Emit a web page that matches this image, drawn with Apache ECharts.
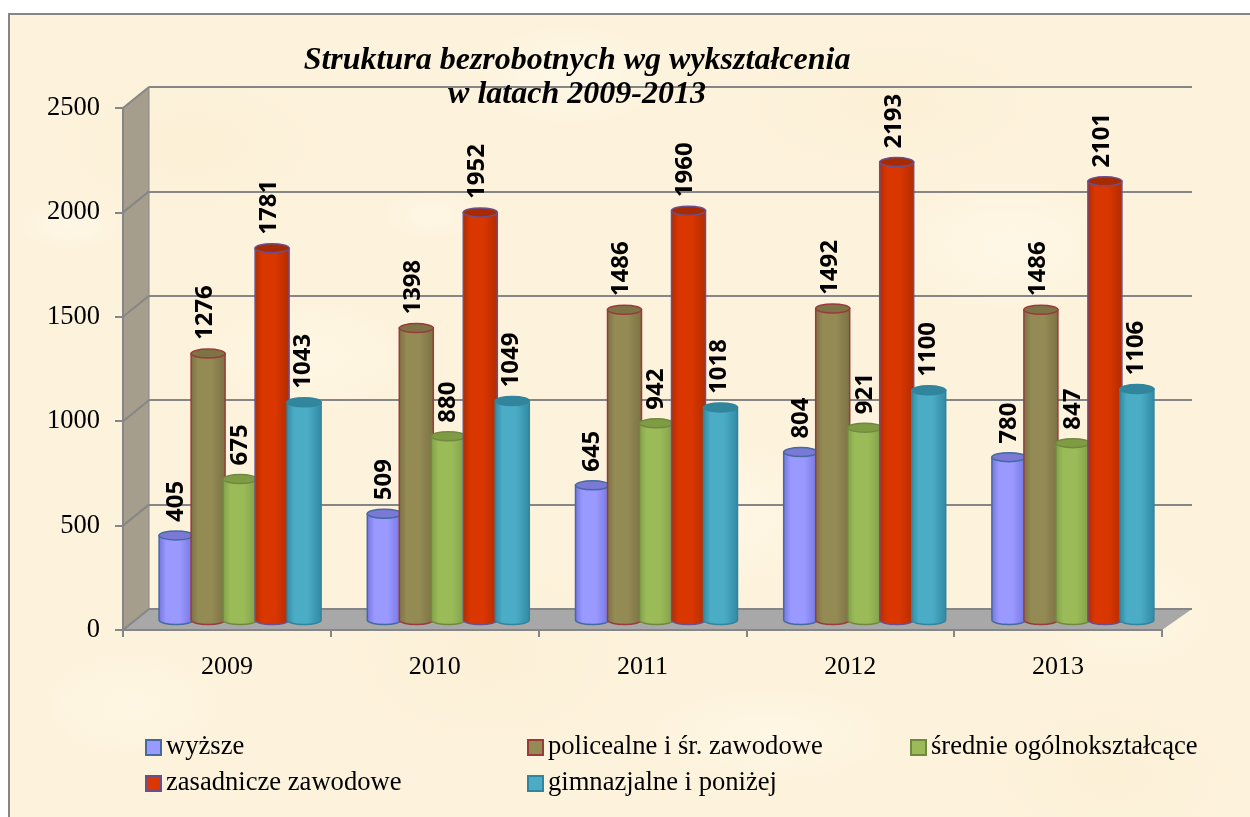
<!DOCTYPE html>
<html><head><meta charset="utf-8">
<script src="https://cdn.jsdelivr.net/npm/echarts@6/dist/echarts.min.js"></script>
<style>
html,body{margin:0;padding:0;background:#fff;overflow:hidden}
#paper{position:absolute;left:8px;top:13px;width:1242px;height:804px;border-left:2px solid #868686;border-top:2px solid #868686;box-sizing:border-box;
background-color:#fdf2db;
background-image:
radial-gradient(ellipse 110px 60px at 560px 60px,rgba(255,250,235,.75),transparent),
radial-gradient(ellipse 140px 80px at 1000px 230px,rgba(255,250,235,.7),transparent),
radial-gradient(ellipse 130px 70px at 300px 340px,rgba(255,249,232,.65),transparent),
radial-gradient(ellipse 160px 90px at 700px 500px,rgba(255,250,235,.65),transparent),
radial-gradient(ellipse 120px 70px at 120px 690px,rgba(255,249,232,.6),transparent),
radial-gradient(ellipse 150px 60px at 760px 720px,rgba(255,250,235,.6),transparent),
radial-gradient(ellipse 120px 80px at 1120px 600px,rgba(255,248,230,.6),transparent),
radial-gradient(ellipse 60px 30px at 60px 210px,rgba(255,250,238,.6),transparent),
radial-gradient(ellipse 60px 30px at 420px 200px,rgba(255,250,238,.5),transparent),
radial-gradient(ellipse 70px 30px at 860px 420px,rgba(255,250,238,.5),transparent),
radial-gradient(ellipse 130px 70px at 180px 130px,rgba(250,236,208,.4),transparent),
radial-gradient(ellipse 150px 70px at 880px 90px,rgba(250,236,208,.35),transparent),
radial-gradient(ellipse 140px 90px at 480px 640px,rgba(250,236,208,.35),transparent),
radial-gradient(ellipse 120px 70px at 1100px 760px,rgba(250,236,208,.35),transparent);}
#chart{position:absolute;left:0;top:0;width:1250px;height:817px}
</style></head><body>
<div id="paper"></div><div id="chart"></div>
<script>
const categories = ['2009','2010','2011','2012','2013'];
const yTicks = [0,500,1000,1500,2000,2500];
const wyzsze = [405,509,645,804,780];
const policealne = [1276,1398,1486,1492,1486];
const srednie = [675,880,942,921,847];
const zasadnicze = [1781,1952,1960,2193,2101];
const gimnazjalne = [1043,1049,1018,1100,1106];
const seriesNames = ['wyższe','policealne i śr. zawodowe','średnie ogólnokształcące','zasadnicze zawodowe','gimnazjalne i poniżej'];
const seriesValues = [wyzsze,policealne,srednie,zasadnicze,gimnazjalne];
const fills = ['#9999ff','#948a54','#9bbb59','#d93600','#4bacc6'];
const edges = ['#7373e0','#7a7044','#7f9e47','#b02c00','#3189a3'];
const borders = ['#446a9e','#9a3b3b','#71893f','#6a4f8f','#31859c'];
const tops = ['#7a7ad6','#7d7345','#7f9c45','#a82a00','#31859c'];
const labelShift = [0,-3,0,-3,-1];

const serif = '"Liberation Serif","Times New Roman",serif';
const F = {l:123,t:108,w:1039,h:522};   // front plane of the box
const B = {l:149,t:87,w:1043,h:522};    // back wall
const M = {l:136,t:98,w:1041,h:522};    // plane of the cylinders
const dy = F.t-B.t;
const wallColor = '#a59e8c', floorColor = '#a8a8a8', lineColor = '#868686';

function renderCylinder(idx){
  return function(params, api){
    const cat = api.value(0), val = api.value(1);
    const step = 32, w = 34, ry = 4.5;
    const c = api.coord([cat,0]);
    const top = api.coord([cat,val]);
    const cx = c[0] + (idx-2)*step;
    const x0 = cx - w/2;
    const grad = new echarts.graphic.LinearGradient(0,0,1,0,[
      {offset:0,color:edges[idx]},{offset:.22,color:fills[idx]},{offset:.6,color:fills[idx]},{offset:1,color:edges[idx]}]);
    const body = {type:'path',
      shape:{pathData:`M${x0} ${top[1]} L${x0} ${c[1]} A${w/2} ${ry} 0 0 0 ${x0+w} ${c[1]} L${x0+w} ${top[1]} Z`},
      style:{fill:grad,stroke:borders[idx],lineWidth:1.5}};
    const lid = {type:'ellipse',shape:{cx:cx,cy:top[1],rx:w/2,ry:ry},
      style:{fill:tops[idx],stroke:borders[idx],lineWidth:1.5}};
    const label = {type:'text',x:cx+labelShift[idx],y:top[1]-13.5,rotation:Math.PI/2,
      style:{text:String(val),textAlign:'left',textVerticalAlign:'middle',
        font:'bold 24px "Open Sans",sans-serif',fill:'#000'}};
    return {type:'group',children:[body,lid,label]};
  };
}

const series = seriesNames.map((name,i)=>({
  name:name,type:'custom',xAxisIndex:2,yAxisIndex:2,
  renderItem:renderCylinder(i),
  itemStyle:{color:fills[i],borderColor:borders[i],borderWidth:2},
  encode:{x:0,y:1},
  data:seriesValues[i].map((v,k)=>[k,v]),
  z:3+i,clip:false
}));

const legendPos = [[145,734],[527,734],[910,734],[145,770],[527,770]];
const legends = seriesNames.map((n,i)=>({
  data:[n],left:legendPos[i][0],top:legendPos[i][1],orient:'horizontal',
  icon:'rect',itemWidth:15,itemHeight:15,itemGap:5,selectedMode:false,padding:0,
  textStyle:{fontFamily:serif,fontSize:26.6,color:'#000',padding:[0,0,0,0]}
}));

const decor = [
  {type:'polygon',z:-2,shape:{points:[[F.l,F.t],[B.l,B.t],[B.l,B.t+B.h],[F.l,F.t+F.h]]},style:{fill:wallColor}},
  {type:'polygon',z:-2,shape:{points:[[F.l,F.t+F.h],[B.l,B.t+B.h],[B.l+B.w,B.t+B.h],[F.l+F.w,F.t+F.h]]},style:{fill:floorColor}}
];
yTicks.forEach(v=>{
  const y = F.t+F.h-v/2500*F.h;
  decor.push({type:'line',z:-1,shape:{x1:F.l,y1:y,x2:B.l,y2:y-dy},style:{stroke:lineColor,lineWidth:2}});
});
decor.push({type:'line',z:-1,shape:{x1:B.l,y1:B.t,x2:B.l,y2:B.t+B.h},style:{stroke:lineColor,lineWidth:1}});

const chart = echarts.init(document.getElementById('chart'),null,{renderer:'canvas'});
const hiddenX = {type:'category',data:categories,show:false};
const hiddenY = {type:'value',min:0,max:2500,interval:500,show:false};
chart.setOption({
  animation:false,
  backgroundColor:'transparent',
  title:{text:'Struktura bezrobotnych wg wykształcenia\nw latach 2009-2013',left:572,top:39,textAlign:'center',
    textStyle:{fontFamily:serif,fontSize:32,fontWeight:'bold',fontStyle:'italic',color:'#000',lineHeight:34}},
  legend:legends,
  grid:[
    {left:F.l,top:F.t,width:F.w,height:F.h},
    {left:B.l,top:B.t,width:B.w,height:B.h},
    {left:M.l,top:M.t,width:M.w,height:M.h}
  ],
  xAxis:[
    {gridIndex:0,type:'category',data:categories,boundaryGap:true,
     axisLine:{lineStyle:{color:lineColor,width:2}},
     axisTick:{show:true,length:7,lineStyle:{color:lineColor,width:2},alignWithLabel:false},
     axisLabel:{fontFamily:serif,fontSize:26,color:'#000',margin:24}},
    {gridIndex:1,...hiddenX},
    {gridIndex:2,...hiddenX}
  ],
  yAxis:[
    {gridIndex:0,type:'value',min:0,max:2500,interval:500,
     axisLine:{show:true,lineStyle:{color:lineColor,width:2}},
     axisTick:{show:true,length:8,lineStyle:{color:lineColor,width:2}},
     splitLine:{show:false},
     axisLabel:{fontFamily:serif,fontSize:26.5,color:'#000',margin:23,padding:[4,0,0,0],formatter:v=>String(v)}},
    {gridIndex:1,type:'value',min:0,max:2500,interval:500,
     axisLine:{show:false},axisTick:{show:false},axisLabel:{show:false},
     splitLine:{show:true,lineStyle:{color:lineColor,width:2}}},
    {gridIndex:2,...hiddenY}
  ],
  graphic:{elements:decor},
  series:series
});
</script></body></html>
